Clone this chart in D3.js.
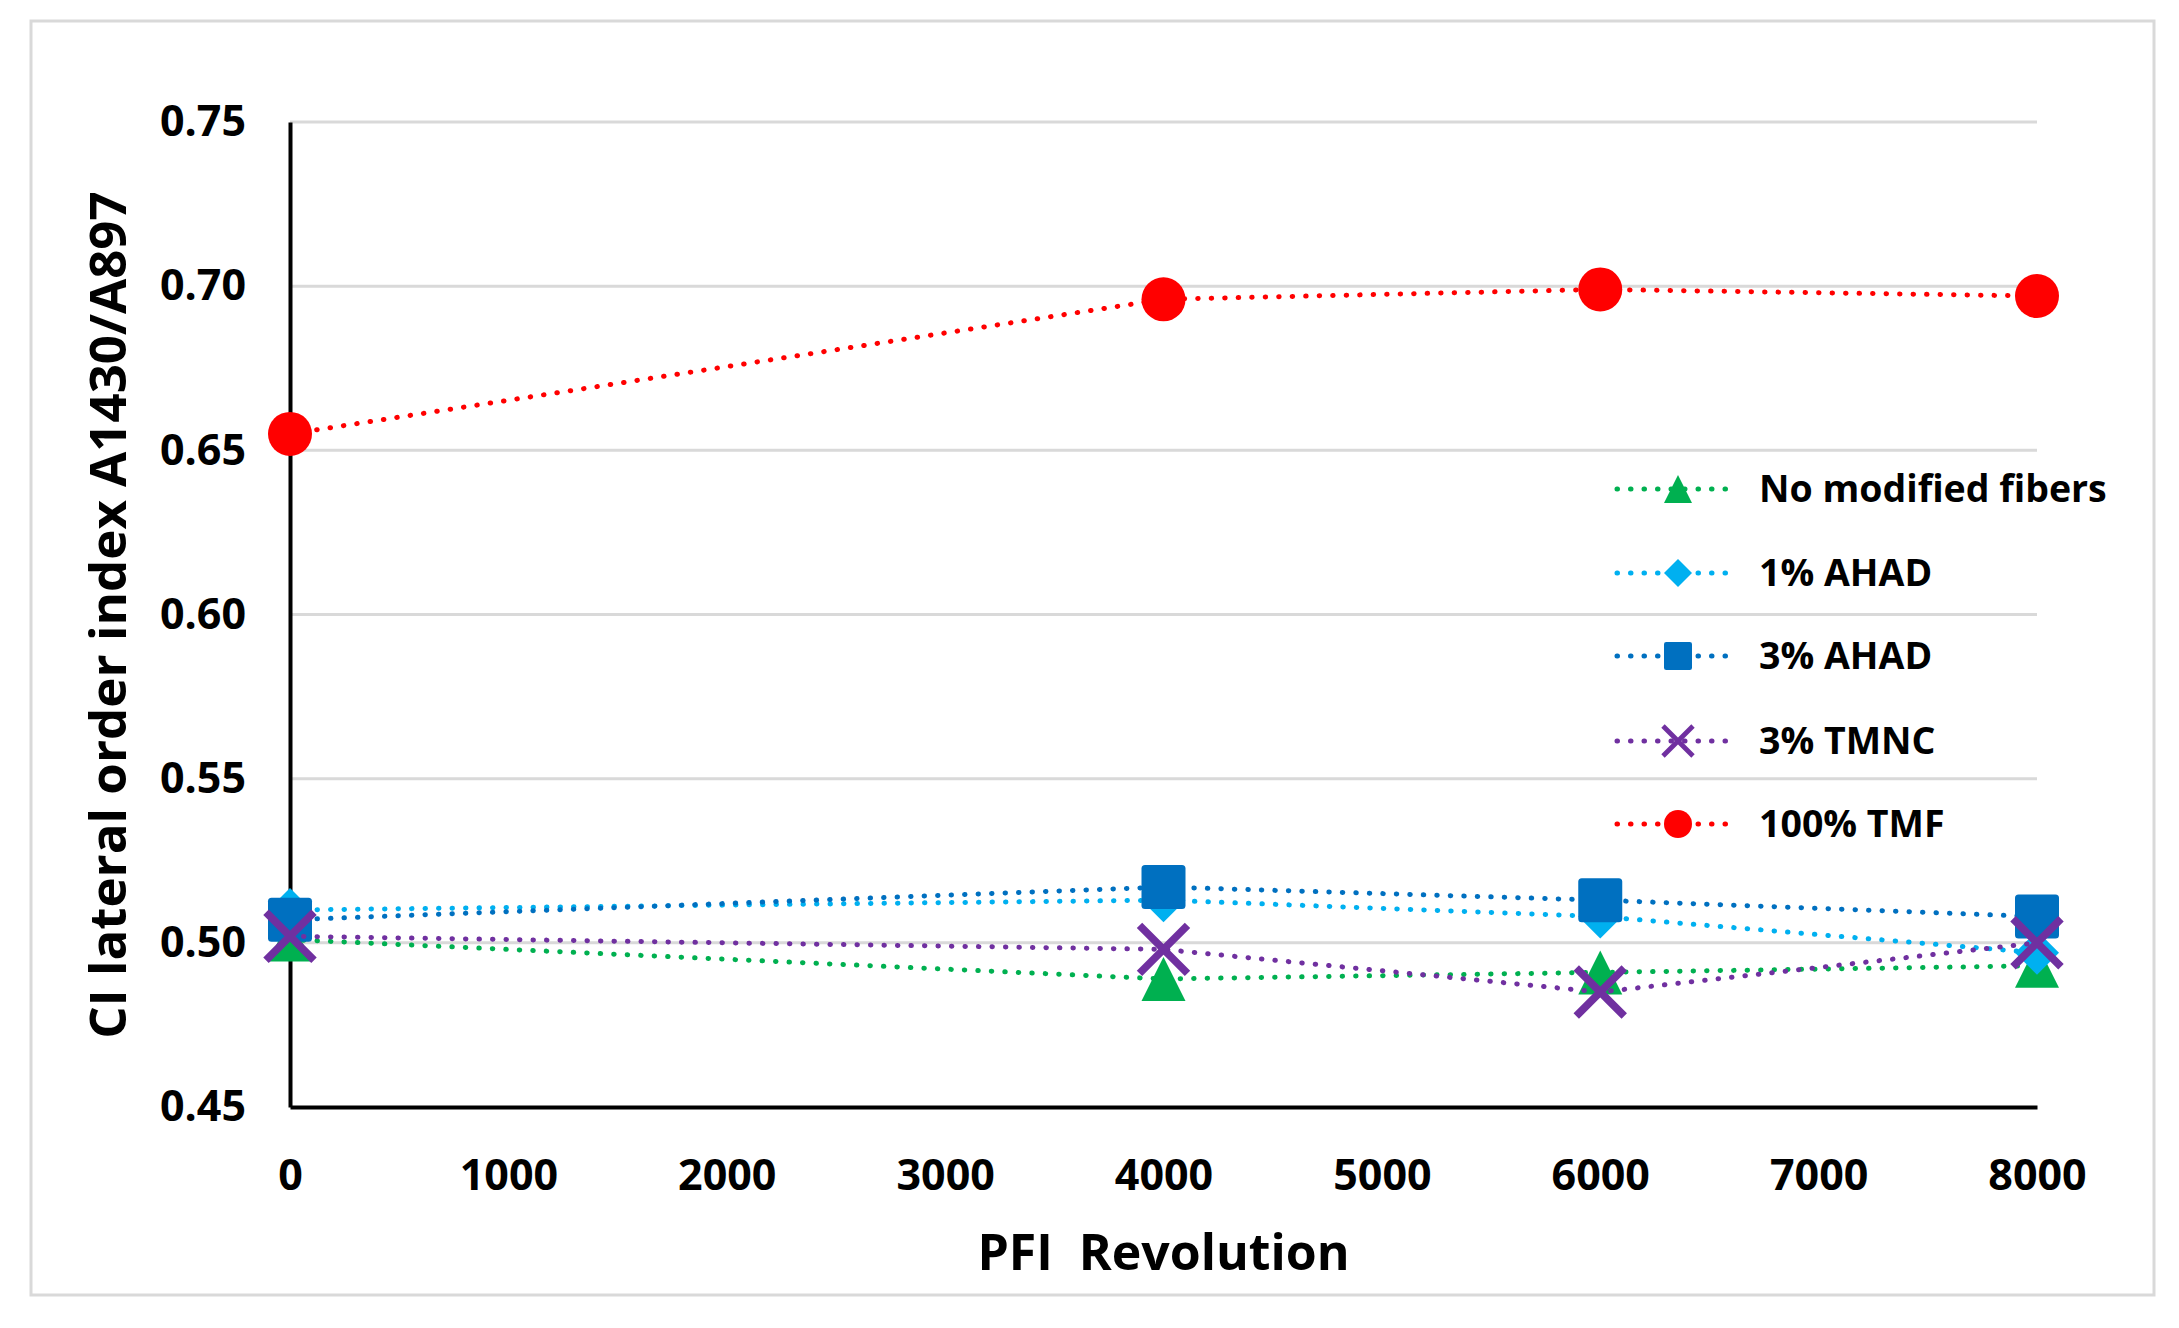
<!DOCTYPE html>
<html>
<head>
<meta charset="utf-8">
<script src="https://cdn.jsdelivr.net/npm/d3@7"></script>
<style>
  body { margin: 0; background: #fff; }
  svg { display: block; font-family: "Open Sans", "Noto Sans", sans-serif; font-weight: bold; }
</style>
</head>
<body>
<div id="chart"></div>
<script>
const revolutions = [0, 4000, 6000, 8000];
const seriesNames = ["No modified fibers", "1% AHAD", "3% AHAD", "3% TMNC", "100% TMF"];
const noModified = [0.501, 0.489, 0.491, 0.493];
const ahad1 = [0.510, 0.513, 0.508, 0.497];
const ahad3 = [0.507, 0.517, 0.513, 0.508];
const tmnc3 = [0.502, 0.498, 0.485, 0.500];
const tmf100 = [0.655, 0.696, 0.699, 0.697];
const xTicks = [0, 1000, 2000, 3000, 4000, 5000, 6000, 7000, 8000];
const yTicks = [0.45, 0.50, 0.55, 0.60, 0.65, 0.70, 0.75];

const colors = ["#00B050", "#00B0F0", "#0070C0", "#7030A0", "#FF0000"];
const shapes = ["triangle", "diamond", "square", "cross", "circle"];
const values = [noModified, ahad1, ahad3, tmnc3, tmf100];

const width = 2179, height = 1328;
const margin = { top: 122, right: 142, bottom: 221, left: 290 };

const svg = d3.select("#chart").append("svg")
    .attr("width", width)
    .attr("height", height)
    .attr("viewBox", [0, 0, width, height]);

// outer frame
svg.append("rect")
    .attr("x", 31).attr("y", 21)
    .attr("width", 2123).attr("height", 1274)
    .attr("fill", "#fff")
    .attr("stroke", "#d9d9d9")
    .attr("stroke-width", 3);

const x = d3.scaleLinear()
    .domain([0, 8000])
    .range([margin.left, width - margin.right]);

const y = d3.scaleLinear()
    .domain([0.45, 0.75])
    .range([height - margin.bottom, margin.top]);

// gridlines
svg.append("g")
    .selectAll("line")
    .data(yTicks.filter(d => d > 0.45))
    .join("line")
    .attr("x1", x(0)).attr("x2", x(8000))
    .attr("y1", d => y(d)).attr("y2", d => y(d))
    .attr("stroke", "#d9d9d9")
    .attr("stroke-width", 3);

const styleTicks = g => g.selectAll("text")
    .attr("font-size", 43)
    .attr("font-family", "Open Sans, sans-serif")
    .attr("font-weight", "bold")
    .attr("fill", "#000");

const yAxis = d3.axisLeft(y).tickValues(yTicks).tickFormat(d3.format(".2f")).tickSize(0).tickPadding(44);
svg.append("g")
    .attr("transform", `translate(${x(0)},0)`)
    .call(yAxis)
    .call(g => g.select(".domain").attr("stroke", "#000").attr("stroke-width", 4))
    .call(styleTicks);

const xAxis = d3.axisBottom(x).tickValues(xTicks).tickFormat(d3.format("d")).tickSize(0).tickPadding(52);
svg.append("g")
    .attr("transform", `translate(0,${y(0.45)})`)
    .call(xAxis)
    .call(g => g.select(".domain").attr("stroke", "#000").attr("stroke-width", 4))
    .call(styleTicks);

// axis titles
svg.append("text")
    .attr("x", x(4000))
    .attr("y", 1270)
    .attr("text-anchor", "middle")
    .attr("font-size", 50)
    .attr("fill", "#000")
    .attr("xml:space", "preserve")
    .text("PFI  Revolution");

svg.append("text")
    .attr("transform", `translate(126,615) rotate(-90)`)
    .attr("text-anchor", "middle")
    .attr("font-size", 51)
    .attr("fill", "#000")
    .text("CI lateral order index A1430/A897");

function marker(sel, shape, color, s) {
    if (shape === "cross") {
        const h = s / 2;
        sel.append("path")
            .attr("d", `M${-h},${-h}L${h},${h}M${-h},${h}L${h},${-h}`)
            .attr("stroke", color)
            .attr("stroke-width", s * 0.16)
            .attr("fill", "none");
    } else if (shape === "square") {
        sel.append("rect")
            .attr("x", -s / 2).attr("y", -s / 2)
            .attr("width", s).attr("height", s)
            .attr("rx", s * 0.08)
            .attr("fill", color);
    } else if (shape === "diamond") {
        const h = s / 2;
        sel.append("path")
            .attr("d", `M0,${-h}L${h},0L0,${h}L${-h},0Z`)
            .attr("fill", color);
    } else if (shape === "triangle") {
        const h = s / 2;
        sel.append("path")
            .attr("d", `M0,${-h}L${h},${h}L${-h},${h}Z`)
            .attr("fill", color);
    } else {
        sel.append("circle").attr("r", s / 2).attr("fill", color);
    }
}

const line = d3.line()
    .x((d, i) => x(revolutions[i]))
    .y(d => y(d));

const sizes = [44, 44, 44, 48, 44];

values.forEach((vals, k) => {
    const g = svg.append("g");
    g.append("path")
        .attr("d", line(vals))
        .attr("fill", "none")
        .attr("stroke", colors[k])
        .attr("stroke-width", 5)
        .attr("stroke-linecap", "round")
        .attr("stroke-dasharray", "0.5 13");
    vals.forEach((v, i) => {
        const m = g.append("g").attr("transform", `translate(${x(revolutions[i])},${y(v)})`);
        marker(m, shapes[k], colors[k], sizes[k]);
    });
});

// legend
const legendY = [489, 573, 656, 741, 824];
const legend = svg.append("g");
seriesNames.forEach((name, k) => {
    const g = legend.append("g").attr("transform", `translate(0,${legendY[k]})`);
    g.append("line")
        .attr("x1", 1617).attr("x2", 1737)
        .attr("stroke", colors[k])
        .attr("stroke-width", 5)
        .attr("stroke-linecap", "round")
        .attr("stroke-dasharray", "0.5 13");
    const m = g.append("g").attr("transform", "translate(1678,0)");
    marker(m, shapes[k], colors[k], k === 3 ? 30 : 28);
    g.append("text")
        .attr("x", 1759)
        .attr("dy", "0.35em")
        .attr("font-size", 37.5)
        .attr("fill", "#000")
        .text(name);
});
</script>
</body>
</html>
